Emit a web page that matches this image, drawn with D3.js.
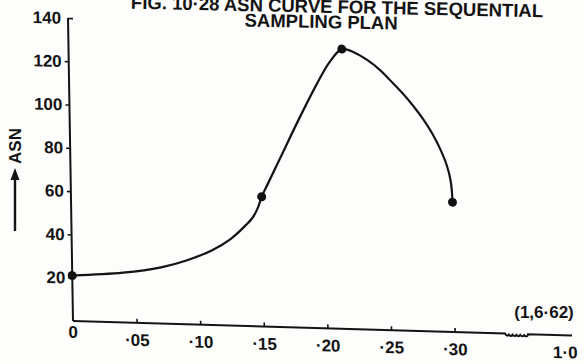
<!DOCTYPE html>
<html>
<head>
<meta charset="utf-8">
<script src="https://cdn.jsdelivr.net/npm/d3@7"></script>
<style>
  body { margin: 0; background: #fdfdfc; }
  svg { display: block; }
  text { font-family: "Liberation Sans", Arial, sans-serif; font-weight: bold; fill: #141414; }
</style>
</head>
<body>
<div id="svgArea"></div>
<script>
var width = 584;
var height = 364;

// traced curve (p, ASN)
var curveP   = [0, 0.04, 0.07, 0.09, 0.11, 0.125, 0.137, 0.143, 0.147, 0.15, 0.155, 0.165, 0.18, 0.195, 0.205, 0.215, 0.225, 0.235, 0.245, 0.2525, 0.262, 0.27, 0.278, 0.285, 0.291, 0.296, 0.2988, 0.2998, 0.30];
var curveASN = [21, 23, 26, 29.5, 34.5, 40, 46.5, 50.5, 55, 60, 66, 78, 96, 113, 123, 129.3, 127.8, 124.5, 120, 115.6, 109.8, 104.3, 98, 91.5, 84.5, 77, 70, 64, 60];

// marked points
var pointP   = [0, 0.15, 0.215, 0.30];
var pointASN = [21, 60, 129.3, 60];

var xTicks = [0.05, 0.10, 0.15, 0.20, 0.25, 0.30];
var xTickLabels = ['·05', '·10', '·15', '·20', '·25', '·30'];
var yTicks = [20, 40, 60, 80, 100, 120, 140];
var endLabel = '1·0';
var endNote = '(1,6·62)';
var titleLines = ['FIG. 10·28 ASN CURVE FOR THE SEQUENTIAL', 'SAMPLING PLAN'];

var svg, plot, xScale, yScale;

var svgBox = () => {
    svg = d3.select('#svgArea')
    .append('svg')
    .attr('width', width)
    .attr('height', height);

    // the scanned page is slightly skewed
    plot = svg.append('g')
    .attr('transform', 'matrix(1,0.029,0.0165,1,73,321)');
};

var scales = () => {
    xScale = d3.scaleLinear()
    .domain([0, 0.30, 1.0])
    .range([0, 381.6, 492]);

    yScale = d3.scaleLinear()
    .domain([0, 140])
    .range([0, -303]);
};

var axes = () => {
    var xAxis = d3.axisBottom(xScale)
    .tickValues(xTicks)
    .tickFormat((d, i) => xTickLabels[i])
    .tickSizeInner(-4)
    .tickSizeOuter(0)
    .tickPadding(11);

    var gx = plot.append('g').call(xAxis);
    gx.select('.domain').remove();
    gx.selectAll('line').attr('stroke', '#141414').attr('stroke-width', 1.6);
    gx.selectAll('text').style('font-size', '17px').attr('fill', '#141414');

    // axis line with break
    var b0 = 432, b1 = 455, end = 499;
    var zig = 'M0,0H' + b0;
    for (var i = 0; i < 6; i++) {
        var x = b0 + i * (b1 - b0) / 6;
        zig += 'Q' + (x + 1.9) + ',3.5 ' + (x + 3.83) + ',1';
    }
    zig += 'L' + b1 + ',0H' + end;
    plot.append('path')
    .attr('d', zig)
    .attr('fill', 'none')
    .attr('stroke', '#141414')
    .attr('stroke-width', 2);

    plot.append('text')
    .attr('x', xScale(1.0))
    .attr('y', 23)
    .attr('text-anchor', 'middle')
    .style('font-size', '17px')
    .text(endLabel);

    plot.append('text')
    .attr('x', 0)
    .attr('y', 17)
    .attr('text-anchor', 'middle')
    .style('font-size', '17px')
    .text('0');

    var yAxis = d3.axisLeft(yScale)
    .tickValues(yTicks)
    .tickSizeInner(4)
    .tickSizeOuter(0)
    .tickPadding(3);

    var gy = plot.append('g').call(yAxis);
    gy.select('.domain').remove();
    gy.selectAll('line').attr('stroke', '#141414').attr('stroke-width', 1.6);
    gy.selectAll('.tick').filter(d => d === 140).select('line').attr('x2', 5);
    gy.selectAll('text').style('font-size', '17px').attr('fill', '#141414');

    plot.append('line')
    .attr('x1', 0).attr('y1', 0)
    .attr('x2', 0).attr('y2', yScale(140))
    .attr('stroke', '#141414')
    .attr('stroke-width', 2);
};

var curve = () => {
    var pts = curveP.map((p, i) => [p, curveASN[i]]);
    var line = d3.line()
    .x(d => xScale(d[0]))
    .y(d => yScale(d[1]))
    .curve(d3.curveCatmullRom.alpha(0.5));

    plot.append('path')
    .datum(pts)
    .attr('d', line)
    .attr('fill', 'none')
    .attr('stroke', '#141414')
    .attr('stroke-width', 2.2);
};

var dots = () => {
    plot.selectAll('.dot')
    .data(pointP.map((p, i) => [p, pointASN[i]]))
    .enter()
    .append('circle')
    .attr('class', 'dot')
    .attr('cx', d => xScale(d[0]))
    .attr('cy', d => yScale(d[1]))
    .attr('r', 4.5)
    .attr('fill', '#111');
};

var labels = () => {
    svg.append('text')
    .attr('x', 543)
    .attr('y', 13)
    .attr('text-anchor', 'end')
    .attr('transform', 'rotate(1.2,336,13)')
    .style('font-size', '18.5px')
    .text(titleLines[0]);

    svg.append('text')
    .attr('x', 321)
    .attr('y', 28)
    .attr('text-anchor', 'middle')
    .attr('transform', 'rotate(1.2,321,28)')
    .style('font-size', '18.5px')
    .text(titleLines[1]);

    svg.append('text')
    .attr('x', 544)
    .attr('y', 318)
    .attr('text-anchor', 'middle')
    .style('font-size', '17px')
    .text(endNote);

    // rotated axis title with arrow
    svg.append('text')
    .attr('transform', 'translate(21,146) rotate(-90)')
    .attr('text-anchor', 'middle')
    .style('font-size', '17px')
    .text('ASN');

    svg.append('line')
    .attr('x1', 15).attr('y1', 231)
    .attr('x2', 15).attr('y2', 178)
    .attr('stroke', '#141414')
    .attr('stroke-width', 2.4);

    svg.append('path')
    .attr('d', 'M15,168L10.5,180L19.5,180Z')
    .attr('fill', '#141414');
};

svgBox();
scales();
axes();
curve();
dots();
labels();
</script>
</body>
</html>
